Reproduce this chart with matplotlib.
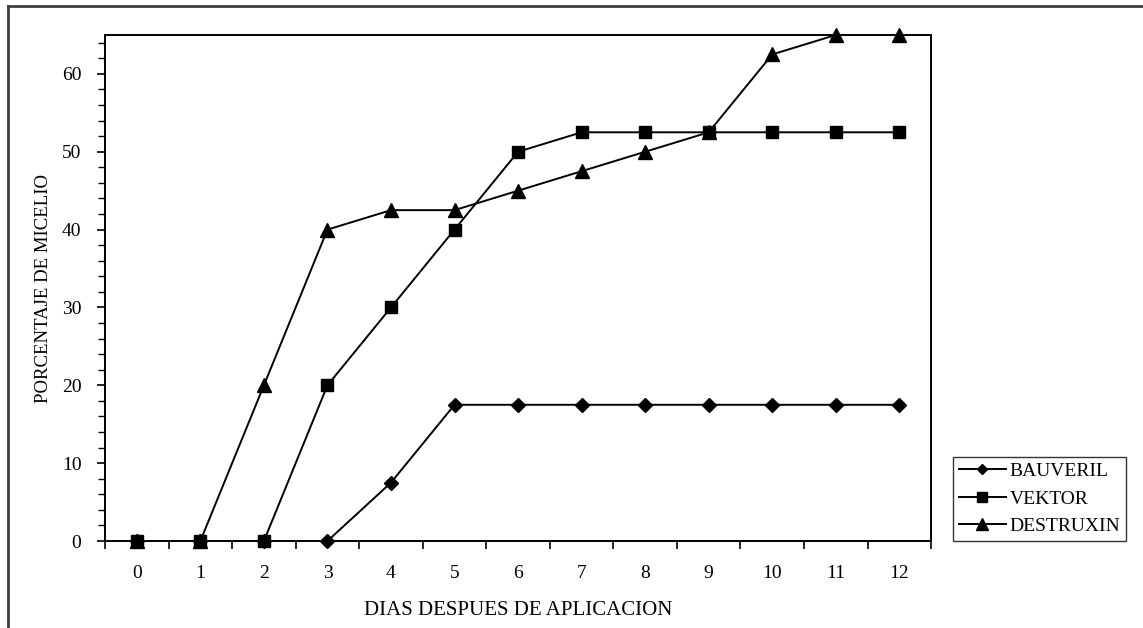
import matplotlib
matplotlib.use("Agg")
import matplotlib.pyplot as plt
from matplotlib.lines import Line2D
from matplotlib.ticker import MultipleLocator, FixedLocator

dias = list(range(13))
bauveril = [0, 0, 0, 0, 7.5, 17.5, 17.5, 17.5, 17.5, 17.5, 17.5, 17.5, 17.5]
vektor = [0, 0, 0, 20, 30, 40, 50, 52.5, 52.5, 52.5, 52.5, 52.5, 52.5]
destruxin = [0, 0, 20, 40, 42.5, 42.5, 45, 47.5, 50, 52.5, 62.5, 65, 65]

plt.rcParams["font.family"] = ["Liberation Serif", "DejaVu Serif"]

fig = plt.figure(figsize=(11.43, 6.28), dpi=100)
ax = fig.add_axes([0.0919, 0.1385, 0.7227, 0.8058])

ax.plot(dias, bauveril, color="black", lw=1.4, marker="D", ms=7,
        label="BAUVERIL", clip_on=False, zorder=3)
ax.plot(dias, vektor, color="black", lw=1.4, marker="s", ms=9,
        label="VEKTOR", clip_on=False, zorder=3)
ax.plot(dias, destruxin, color="black", lw=1.4, marker="^", ms=10,
        label="DESTRUXIN", clip_on=False, zorder=3)

ax.set_xlim(-0.5, 12.5)
ax.set_ylim(0, 65)

# excel-style category axis: ticks between categories, labels centered
ax.xaxis.set_major_locator(FixedLocator([i - 0.5 for i in range(14)]))
ax.xaxis.set_minor_locator(FixedLocator(dias))
ax.xaxis.set_major_formatter(plt.NullFormatter())
ax.xaxis.set_minor_formatter(plt.FixedFormatter([str(d) for d in dias]))
ax.tick_params(axis="x", which="major", direction="out", length=6, width=1.2)
ax.tick_params(axis="x", which="minor", length=0, pad=17, labelsize=14)

ax.yaxis.set_major_locator(MultipleLocator(10))
ax.yaxis.set_minor_locator(MultipleLocator(2))
ax.tick_params(axis="y", which="major", direction="out", length=6, width=1.2,
               labelsize=14, pad=11)
ax.tick_params(axis="y", which="minor", direction="out", length=5, width=1.0)

for s in ax.spines.values():
    s.set_linewidth(1.4)
    s.set_color("black")

ax.set_xlabel("DIAS DESPUES DE APLICACION", fontsize=15, labelpad=14)
ax.set_ylabel("PORCENTAJE DE MICELIO", fontsize=13.5, labelpad=7)

leg = fig.legend(loc="lower left", bbox_to_anchor=(0.834, 0.139),
                 fontsize=14, frameon=True, fancybox=False,
                 edgecolor="black", handlelength=2.4, borderpad=0.3,
                 labelspacing=0.5, handletextpad=0.2, borderaxespad=0,
                 markerscale=0.8)
leg.get_frame().set_linewidth(1.0)

# outer chart frame (partially cropped in original)
fig.add_artist(Line2D([0.007, 1.0], [0.991, 0.991], color="#404040", lw=2.0))
fig.add_artist(Line2D([0.007, 0.007], [0.0, 0.991], color="#404040", lw=2.0))

fig.savefig("out.png", dpi=100)
